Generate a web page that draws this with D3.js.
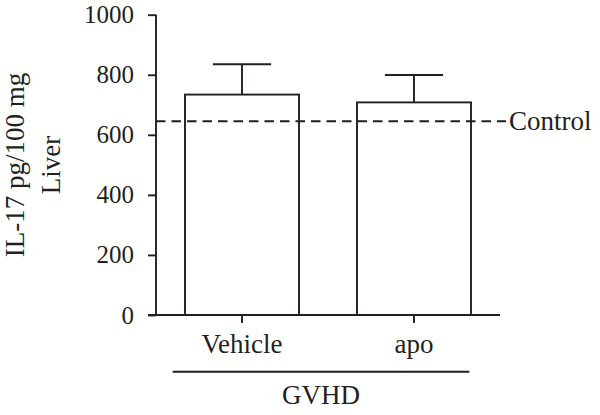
<!DOCTYPE html>
<html>
<head>
<meta charset="utf-8">
<script src="https://cdn.jsdelivr.net/npm/d3@7"></script>
<style>
  html, body { margin: 0; padding: 0; background: #fff; }
  svg { display: block; }
  svg text { font-family: "Liberation Serif", "Times New Roman", Times, serif !important; fill: #231f20; }
</style>
</head>
<body>
<svg id="chart" width="600" height="415"></svg>
<script>
const categories = ["Vehicle", "apo"];
const means = [734, 708];
const errors = [101, 91];
const controlValue = 645;
const yTicks = [0, 200, 400, 600, 800, 1000];
const groupLabel = "GVHD";
const controlLabel = "Control";
const yLabelLines = ["IL-17 pg/100 mg", "Liver"];

const serif = '"Liberation Serif", "Times New Roman", Times, serif';
const svg = d3.select("#chart").style("font-family", serif);
const ink = "#231f20";
const sw = 1.9;

const y = d3.scaleLinear().domain([0, 1000]).range([315, 14.7]);
const x = d3.scaleBand().domain(categories).range([156, 500])
  .paddingInner(0.337).paddingOuter(0.1685);

// Bars
svg.selectAll("rect.bar").data(categories).enter().append("rect")
  .attr("class", "bar")
  .attr("x", d => x(d))
  .attr("width", x.bandwidth())
  .attr("y", (d, i) => y(means[i]))
  .attr("height", (d, i) => y(0) - y(means[i]))
  .attr("fill", "#fff").attr("stroke", ink).attr("stroke-width", sw);

// Error bars (upper only)
const capW = x.bandwidth() * 0.51;
categories.forEach((c, i) => {
  const cx = x(c) + x.bandwidth() / 2;
  svg.append("line").attr("x1", cx).attr("x2", cx)
    .attr("y1", y(means[i])).attr("y2", y(means[i] + errors[i]))
    .attr("stroke", ink).attr("stroke-width", sw);
  svg.append("line").attr("x1", cx - capW / 2).attr("x2", cx + capW / 2)
    .attr("y1", y(means[i] + errors[i])).attr("y2", y(means[i] + errors[i]))
    .attr("stroke", ink).attr("stroke-width", sw);
});

// Control dashed line
svg.append("line").attr("x1", 156).attr("x2", 506)
  .attr("y1", y(controlValue)).attr("y2", y(controlValue))
  .attr("stroke", ink).attr("stroke-width", sw)
  .attr("stroke-dasharray", "9.5,6");
svg.append("text").attr("x", 509).attr("y", y(controlValue) + 9)
  .style("font-family", serif).attr("font-size", 27).text(controlLabel);

// Y axis
const yAxis = svg.append("g").attr("transform", "translate(156,0)")
  .call(d3.axisLeft(y).tickValues(yTicks).tickSize(8).tickPadding(14).tickFormat(d3.format("d")));
yAxis.attr("font-family", null);
yAxis.select(".domain").attr("stroke", ink).attr("stroke-width", sw).attr("d", `M0,${y(1000)}V${y(0)}`);
yAxis.selectAll(".tick line").attr("stroke", ink).attr("stroke-width", sw);
yAxis.selectAll(".tick text").style("font-family", serif).attr("font-size", 25).attr("fill", ink);

// X axis
const xAxis = svg.append("g").attr("transform", `translate(0,${y(0)})`)
  .call(d3.axisBottom(x).tickSize(8).tickPadding(10).tickSizeOuter(0));
xAxis.attr("font-family", null);
xAxis.select(".domain").attr("stroke", ink).attr("stroke-width", sw).attr("d", `M148,0H500`);
xAxis.selectAll(".tick line").attr("stroke", ink).attr("stroke-width", sw);
xAxis.selectAll(".tick text").style("font-family", serif).attr("font-size", 27).attr("fill", ink)
  .attr("dy", null).attr("y", 38);

// Group line and label
svg.append("line").attr("x1", 172.7).attr("x2", 469.3).attr("y1", 371.7).attr("y2", 371.7)
  .attr("stroke", ink).attr("stroke-width", sw);
svg.append("text").attr("x", 321).attr("y", 404).attr("text-anchor", "middle")
  .style("font-family", serif).attr("font-size", 27).text(groupLabel);

// Y label
const yl = svg.append("text").attr("transform", "translate(0,165) rotate(-90)")
  .attr("text-anchor", "middle").style("font-family", serif).attr("font-size", 27);
yl.append("tspan").attr("x", 0).attr("y", 24).text(yLabelLines[0]);
yl.append("tspan").attr("x", 0).attr("y", 60).text(yLabelLines[1]);
</script>
</body>
</html>
